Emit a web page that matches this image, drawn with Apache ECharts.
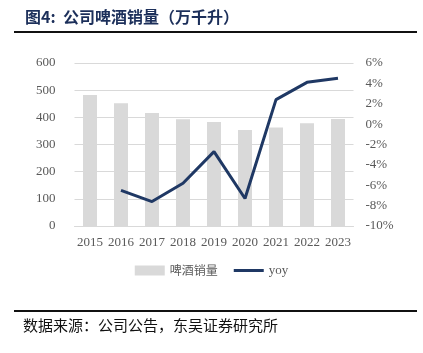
<!DOCTYPE html>
<html>
<head>
<meta charset="utf-8">
<script src="https://cdn.jsdelivr.net/npm/echarts@6/dist/echarts.min.js"></script>
<style>
html,body{margin:0;padding:0;background:#fff;}
#main{width:423px;height:353px;}
</style>
</head>
<body>
<div id="main"></div>
<script>
const categories = ['2015','2016','2017','2018','2019','2020','2021','2022','2023'];
const beerSales = [482, 452, 416, 393, 383, 353, 363, 378, 394];
const yoy = [null, -6.5, -7.6, -5.8, -2.7, -7.3, 2.4, 4.1, 4.5];
const leftTicks = {min: 0, max: 600, interval: 100};
const rightTicks = {min: -10, max: 6, interval: 2};

const chart = echarts.init(document.getElementById('main'), null, {renderer: 'canvas'});
const serif = '"Liberation Serif", "Times New Roman", serif';
const cjk = '"Noto Sans CJK SC", sans-serif';
chart.setOption({
  animation: false,
  backgroundColor: '#fff',
  grid: {left: 74.5, right: 69.5, top: 63, bottom: 127, containLabel: false},
  legend: {
    bottom: 71,
    left: 'center',
    itemWidth: 30,
    itemHeight: 10,
    itemGap: 16,
    textStyle: {fontFamily: cjk, fontSize: 12, color: '#595959'},
    data: [
      {name: '啤酒销量', icon: 'rect'},
      {name: 'yoy', icon: 'path://M0,0h30v3h-30z', textStyle: {fontFamily: serif, fontSize: 13, color: '#595959'}}
    ]
  },
  xAxis: {
    type: 'category',
    data: categories,
    axisLine: {show: true, lineStyle: {color: '#d9d9d9'}},
    axisTick: {show: false},
    axisLabel: {fontFamily: serif, fontSize: 13, color: '#595959', margin: 10, interval: 0}
  },
  yAxis: [
    {
      type: 'value', min: leftTicks.min, max: leftTicks.max, interval: leftTicks.interval,
      axisLine: {show: false}, axisTick: {show: false},
      axisLabel: {fontFamily: serif, fontSize: 13, color: '#595959', margin: 19},
      splitLine: {show: true, lineStyle: {color: '#d9d9d9', width: 1}}
    },
    {
      type: 'value', min: rightTicks.min, max: rightTicks.max, interval: rightTicks.interval,
      axisLine: {show: false}, axisTick: {show: false},
      axisLabel: {fontFamily: serif, fontSize: 13, color: '#595959', margin: 12, formatter: '{value}%'},
      splitLine: {show: false}
    }
  ],
  series: [
    {
      name: '啤酒销量', type: 'bar', data: beerSales, yAxisIndex: 0,
      barWidth: 14,
      itemStyle: {color: '#d9d9d9'}
    },
    {
      name: 'yoy', type: 'line', data: yoy, yAxisIndex: 1,
      symbol: 'none', connectNulls: false,
      lineStyle: {color: '#1f3864', width: 3},
      itemStyle: {color: '#1f3864'}
    }
  ],
  graphic: [
    {type: 'text', left: 25, top: 9, style: {text: '图4:  公司啤酒销量（万千升）', fontFamily: cjk, fontWeight: 'bold', fontSize: 16, fill: '#1c2f5a'}},
    {type: 'line', shape: {x1: 14, y1: 32, x2: 417, y2: 32}, style: {stroke: '#111', lineWidth: 2}},
    {type: 'line', shape: {x1: 14, y1: 311, x2: 417, y2: 311}, style: {stroke: '#111', lineWidth: 2}},
    {type: 'text', left: 23, top: 318, style: {text: '数据来源：公司公告，东吴证券研究所', fontFamily: cjk, fontSize: 15, fill: '#111'}}
  ]
});
</script>
</body>
</html>
